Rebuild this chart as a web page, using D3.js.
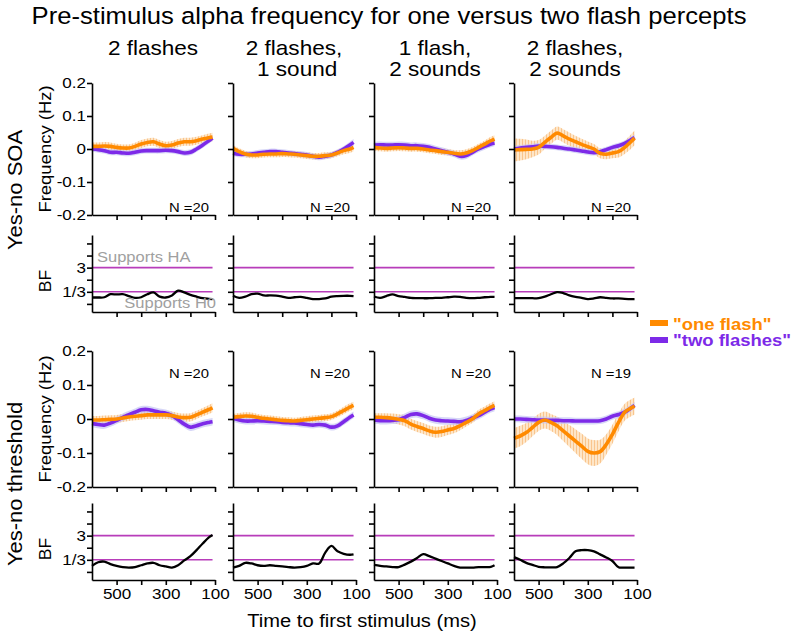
<!DOCTYPE html>
<html>
<head>
<meta charset="utf-8">
<script src="https://cdn.jsdelivr.net/npm/d3@7"></script>
<style>
html,body{margin:0;padding:0;background:#fff;}
svg{font-family:"Liberation Sans",Arial,sans-serif;}
</style>
</head>
<body>
<svg id="chart" width="800" height="635"></svg>
<script>
// ---------------- DATA ----------------
const times = [600,575,550,525,500,475,450,425,400,375,350,325,300,275,250,225,200,175,150,125,110];
const columnTitles = [["2 flashes"], ["2 flashes,", " 1 sound"], ["1 flash,", "2 sounds"], ["2 flashes,", "2 sounds"]];
const rowLabels = ["Yes-no SOA", "Yes-no threshold"];
const freqTicks = [0.2, 0.1, 0, -0.1, -0.2];
const freqTickLabels = ["0.2", "0.1", "0", "-0.1", "-0.2"];
const bfTicks = [-2, -1, 0, 1, 2, 3];            // log base 3 of BF
const bfTickLabels = ["", "1/3", "", "3", "", ""];
const bfLines = [1, -1];                          // BF = 3 and BF = 1/3
const timeTicks = [500, 400, 300, 200, 100];
const timeTickLabels = ["500", "", "300", "", "100"];
const soaN = ["N =20", "N =20", "N =20", "N =20"];
const thrN = ["N =20", "N =20", "N =20", "N =19"];
const legendLabels = ['"one flash"', '"two flashes"'];

// Yes-no SOA: frequency (Hz), per column
const soaOneFlash = [
  [.008,.008,.009,.008,.005,.003,.003,.008,.015,.020,.022,.015,.010,.012,.018,.022,.022,.025,.030,.034,.036],
  [.002,-.008,-.015,-.018,-.018,-.016,-.015,-.015,-.014,-.015,-.016,-.018,-.020,-.022,-.022,-.020,-.018,-.012,-.005,.000,.005],
  [.005,.003,.002,.003,.004,.003,.002,.002,.000,-.003,-.005,-.008,-.010,-.013,-.015,-.012,-.005,.005,.015,.025,.030],
  [-.003,-.002,-.001,.000,.005,.020,.035,.048,.040,.030,.022,.014,.007,.000,-.013,-.016,-.012,-.008,.005,.022,.033]
];
const soaOneFlashErr = [
  [.012,.012,.012,.012,.011,.011,.011,.011,.012,.012,.012,.012,.012,.012,.012,.012,.012,.012,.012,.013,.013],
  [.010,.010,.010,.010,.010,.010,.010,.010,.010,.010,.010,.010,.010,.010,.010,.010,.010,.010,.011,.012,.012],
  [.010,.010,.010,.010,.010,.010,.010,.010,.010,.010,.010,.010,.010,.010,.011,.011,.011,.011,.011,.012,.012],
  [.035,.033,.030,.025,.022,.020,.020,.020,.020,.020,.018,.017,.016,.015,.015,.015,.016,.018,.020,.022,.022]
];
const soaTwoFlashes = [
  [.000,-.002,-.005,-.010,-.010,-.012,-.013,-.010,-.006,-.005,-.005,-.005,-.004,-.005,-.008,-.012,-.010,.000,.012,.025,.033],
  [-.013,-.016,-.016,-.015,-.012,-.010,-.008,-.008,-.010,-.012,-.014,-.016,-.018,-.022,-.025,-.022,-.018,-.010,.000,.012,.020],
  [.012,.013,.012,.012,.013,.012,.010,.010,.008,.005,.000,-.005,-.010,-.015,-.022,-.020,-.010,.000,.008,.015,.018],
  [.000,.003,.005,.007,.009,.008,.007,.005,.002,.000,-.003,-.006,-.009,-.011,-.008,-.002,.005,.010,.017,.028,.035]
];
const soaTwoFlashesErr = [
  [.009,.009,.009,.009,.009,.009,.009,.009,.009,.009,.009,.009,.009,.009,.009,.009,.009,.009,.009,.009,.009],
  [.009,.009,.009,.009,.009,.009,.009,.009,.009,.009,.009,.009,.009,.009,.009,.009,.009,.009,.009,.010,.010],
  [.010,.010,.010,.010,.010,.010,.010,.010,.010,.010,.010,.010,.010,.010,.010,.010,.010,.010,.010,.010,.010],
  [.009,.009,.009,.009,.009,.009,.009,.009,.009,.009,.009,.009,.009,.009,.009,.009,.009,.009,.009,.009,.009]
];
const soaBF = [
  [-1.47,-1.47,-1.45,-1.20,-1.22,-1.20,-1.35,-1.50,-1.45,-1.20,-1.05,-1.40,-1.47,-1.30,-0.90,-1.05,-1.25,-1.40,-1.53,-1.58,-1.60],
  [-1.33,-1.50,-1.40,-1.20,-1.15,-1.30,-1.30,-1.32,-1.40,-1.50,-1.45,-1.42,-1.50,-1.60,-1.60,-1.55,-1.40,-1.35,-1.33,-1.33,-1.35],
  [-1.39,-1.50,-1.35,-1.22,-1.35,-1.42,-1.50,-1.52,-1.53,-1.53,-1.50,-1.50,-1.45,-1.40,-1.42,-1.50,-1.53,-1.50,-1.45,-1.42,-1.42],
  [-1.53,-1.53,-1.53,-1.53,-1.53,-1.40,-1.20,-1.02,-1.10,-1.30,-1.42,-1.50,-1.60,-1.55,-1.45,-1.50,-1.55,-1.55,-1.58,-1.60,-1.60]
];

// Yes-no threshold: frequency (Hz), per column
const thrOneFlash = [
  [-.003,-.003,-.002,-.001,.000,.003,.006,.008,.010,.012,.012,.012,.012,.010,.006,.004,.005,.012,.020,.028,.033],
  [.005,.007,.009,.008,.005,.002,.000,-.002,-.004,-.005,-.006,-.004,-.002,.000,.002,.004,.007,.015,.025,.035,.040],
  [.005,.005,.004,.002,-.001,-.005,-.015,-.022,-.028,-.035,-.039,-.037,-.032,-.028,-.020,-.010,.000,.015,.025,.035,.040],
  [-.057,-.050,-.040,-.025,-.010,-.003,-.010,-.020,-.035,-.050,-.065,-.080,-.095,-.100,-.096,-.075,-.045,-.010,.020,.032,.038]
];
const thrOneFlashErr = [
  [.012,.012,.012,.012,.012,.012,.012,.012,.012,.012,.012,.012,.012,.012,.012,.012,.012,.012,.012,.013,.013],
  [.010,.011,.011,.011,.010,.010,.010,.010,.010,.010,.010,.010,.010,.010,.010,.010,.010,.010,.011,.011,.011],
  [.012,.012,.013,.014,.015,.016,.016,.016,.016,.016,.016,.016,.015,.014,.013,.012,.012,.012,.012,.012,.012],
  [.030,.030,.028,.026,.025,.025,.025,.027,.030,.032,.035,.037,.038,.038,.035,.030,.028,.026,.025,.025,.025]
];
const thrTwoFlashes = [
  [-.013,-.016,-.018,-.012,-.004,.005,.013,.020,.027,.028,.024,.020,.017,.010,-.002,-.015,-.024,-.020,-.014,-.010,-.008],
  [.002,-.003,-.006,-.006,-.005,-.006,-.007,-.008,-.010,-.011,-.012,-.014,-.016,-.018,-.016,-.018,-.024,-.020,-.008,.005,.012],
  [-.003,-.005,-.005,-.004,-.002,.005,.013,.015,.010,.002,-.003,-.005,-.006,-.007,-.008,-.004,.003,.010,.020,.030,.034],
  [.000,.000,-.001,-.002,-.003,-.003,-.004,-.004,-.005,-.005,-.006,-.006,-.006,-.006,-.005,.000,.008,.013,.020,.032,.040]
];
const thrTwoFlashesErr = [
  [.011,.011,.011,.011,.011,.011,.011,.011,.011,.011,.011,.011,.011,.011,.011,.011,.011,.011,.011,.011,.011],
  [.010,.010,.010,.010,.010,.010,.010,.010,.010,.010,.010,.010,.010,.010,.010,.010,.010,.010,.010,.010,.010],
  [.011,.011,.011,.011,.011,.011,.011,.011,.011,.011,.011,.011,.011,.011,.011,.011,.011,.011,.011,.011,.011],
  [.010,.010,.010,.010,.010,.010,.010,.010,.010,.010,.010,.010,.010,.010,.010,.010,.010,.010,.010,.010,.010]
];
const thrBF = [
  [-1.50,-1.20,-1.15,-1.35,-1.50,-1.60,-1.64,-1.60,-1.45,-1.30,-1.25,-1.45,-1.55,-1.64,-1.45,-1.05,-0.70,-0.20,0.35,0.85,1.05],
  [-1.64,-1.50,-1.25,-1.30,-1.45,-1.50,-1.45,-1.50,-1.55,-1.60,-1.64,-1.60,-1.50,-1.30,-1.30,-0.40,0.15,-0.30,-0.50,-0.58,-0.55],
  [-1.42,-1.50,-1.55,-1.60,-1.60,-1.40,-1.15,-0.85,-0.53,-0.70,-0.90,-1.10,-1.30,-1.50,-1.64,-1.64,-1.64,-1.60,-1.60,-1.58,-1.45],
  [-0.78,-1.00,-1.25,-1.42,-1.58,-1.62,-1.62,-1.60,-1.30,-0.85,-0.30,-0.20,-0.20,-0.30,-0.55,-0.80,-1.10,-1.62,-1.64,-1.64,-1.64]
];

// ---------------- STYLE / LAYOUT ----------------
const K = 1.1;                 // horizontal text stretch of the original figure
const ORANGE = "#ff8a00", PURPLE = "#7d2ae8", MAGENTA = "#b83dba";
const colX = [92, 233, 374, 514], colW = 123;
const rows = [
  {freq:[215, 83], bf:[312, 235], one:soaOneFlash, oneErr:soaOneFlashErr, two:soaTwoFlashes, twoErr:soaTwoFlashesErr, bfv:soaBF, N:soaN, nY:212},
  {freq:[487, 351], bf:[580, 503], one:thrOneFlash, oneErr:thrOneFlashErr, two:thrTwoFlashes, twoErr:thrTwoFlashesErr, bfv:thrBF, N:thrN, nY:378}
];

const svg = d3.select("#chart");
const defs = svg.append("defs");
const pat = defs.append("pattern").attr("id","hatchO").attr("patternUnits","userSpaceOnUse").attr("width",3).attr("height",6);
pat.append("rect").attr("width",3).attr("height",6).attr("fill","#fee6c8");
pat.append("rect").attr("x",0).attr("width",1).attr("height",6).attr("fill","#f9c58e");

function addText(sel, x, y, s, size, o = {}) {
  return sel.append("text")
    .attr("transform", `translate(${x},${y}) rotate(${o.rotate || 0}) scale(${K},1)`)
    .attr("text-anchor", o.anchor || "start")
    .attr("font-size", size)
    .attr("font-weight", o.weight || "normal")
    .attr("fill", o.fill || "#000")
    .style("white-space", "pre")
    .text(s);
}

// Title
addText(svg, 389, 24, "Pre-stimulus alpha frequency for one versus two flash percepts", 23.3, {anchor:"middle"});

// Column titles
columnTitles.forEach((lines, c) => {
  lines.forEach((l, i) => {
    addText(svg, colX[c] + 61, 55 + i * 21, l, 20.5, {anchor:"middle"});
  });
});

// Row labels
addText(svg, 22, 190, rowLabels[0], 20, {anchor:"middle", rotate:-90});
addText(svg, 22, 484, rowLabels[1], 20, {anchor:"middle", rotate:-90});

function styleAxis(g) {
  g.select(".domain").attr("stroke", "#000").attr("stroke-width", 1.6);
  g.selectAll(".tick line").attr("stroke", "#000").attr("stroke-width", 1.6);
}

rows.forEach((row, r) => {
  // Left labels
  addText(svg, 51, (row.freq[0] + row.freq[1]) / 2, "Frequency (Hz)", 16.8, {anchor:"middle", rotate:-90});
  addText(svg, 51, row.bf[0] - 31, "BF", 16, {anchor:"middle", rotate:-90});

  colX.forEach((x0, c) => {
    const x = d3.scaleLinear().domain([600, 100]).range([x0, x0 + colW]);
    const yF = d3.scaleLinear().domain([-0.2, 0.2]).range(row.freq);
    const yB = d3.scaleLinear().domain([-2.67, 3.7]).range(row.bf);
    const g = svg.append("g");

    // ---- frequency panel ----
    const one = times.map((t, i) => ({t, v: row.one[c][i], e: row.oneErr[c][i]}));
    const two = times.map((t, i) => ({t, v: row.two[c][i], e: row.twoErr[c][i]}));
    const area = d3.area().x(d => x(d.t)).y0(d => yF(d.v - d.e)).y1(d => yF(d.v + d.e)).curve(d3.curveCatmullRom);
    const line = d3.line().x(d => x(d.t)).y(d => yF(d.v)).curve(d3.curveCatmullRom);
    g.append("path").datum(one).attr("d", area).attr("fill", "url(#hatchO)");
    g.append("path").datum(two).attr("d", area).attr("fill", "#c6c6f4").attr("opacity", 0.7);
    g.append("path").datum(two).attr("d", line).attr("fill", "none").attr("stroke", PURPLE).attr("stroke-width", 3.6);
    g.append("path").datum(one).attr("d", line).attr("fill", "none").attr("stroke", ORANGE).attr("stroke-width", 3.6);

    const ay = g.append("g").attr("transform", `translate(${x0},0)`)
      .call(d3.axisLeft(yF).tickValues(freqTicks).tickSize(5).tickSizeOuter(0)
        .tickFormat((d, i) => c === 0 ? freqTickLabels[i] : ""));
    styleAxis(ay);
    ay.selectAll("text").attr("font-size", 15.5).attr("fill", "#000").attr("font-family", null)
      .attr("x", -6 / K).attr("transform", `scale(${K},1)`);
    const ax = g.append("g").attr("transform", `translate(0,${row.freq[0]})`)
      .call(d3.axisBottom(x).tickValues(timeTicks).tickSize(5).tickSizeOuter(0).tickFormat(""));
    styleAxis(ax);

    addText(g, x0 + 117, row.nY, row.N[c], 13.5, {anchor:"end"});

    // ---- BF panel ----
    bfLines.forEach(v => {
      g.append("line").attr("x1", x(600)).attr("x2", x(110)).attr("y1", yB(v)).attr("y2", yB(v))
        .attr("stroke", MAGENTA).attr("stroke-width", 1.6);
    });
    const bf = times.map((t, i) => ({t, v: row.bfv[c][i]}));
    g.append("path").datum(bf)
      .attr("d", d3.line().x(d => x(d.t)).y(d => yB(d.v)).curve(d3.curveCatmullRom))
      .attr("fill", "none").attr("stroke", "#000").attr("stroke-width", 2.3);

    const by = g.append("g").attr("transform", `translate(${x0},0)`)
      .call(d3.axisLeft(yB).tickValues(bfTicks).tickSize(5).tickSizeOuter(0)
        .tickFormat((d, i) => c === 0 ? bfTickLabels[i] : ""));
    styleAxis(by);
    by.selectAll("text").attr("font-size", 15.5).attr("fill", "#000").attr("font-family", null)
      .attr("x", -6 / K).attr("transform", `scale(${K},1)`);
    const bx = g.append("g").attr("transform", `translate(0,${row.bf[0]})`)
      .call(d3.axisBottom(x).tickValues(timeTicks).tickSize(5).tickSizeOuter(0)
        .tickFormat((d, i) => r === 1 ? timeTickLabels[i] : ""));
    styleAxis(bx);
    bx.selectAll("text").attr("font-size", 15.5).attr("fill", "#000").attr("font-family", null)
      .attr("y", 8).attr("transform", `scale(${K},1)`);

    if (r === 0 && c === 0) {
      addText(g, 97, 262, "Supports HA", 15, {fill:"#a0a0a0"});
      addText(g, 216, 308, "Supports H0", 15, {fill:"#a0a0a0", anchor:"end"});
    }
  });
});

// x-axis title
addText(svg, 362, 627, "Time to first stimulus (ms)", 18.3, {anchor:"middle"});

// Legend
[ORANGE, PURPLE].forEach((col, i) => {
  svg.append("rect").attr("x", 650).attr("y", 320 + i * 17).attr("width", 18).attr("height", 6).attr("fill", col);
  addText(svg, 673, 330 + i * 16, legendLabels[i], 16.8, {fill: col, weight: "bold"});
});
</script>
</body>
</html>
